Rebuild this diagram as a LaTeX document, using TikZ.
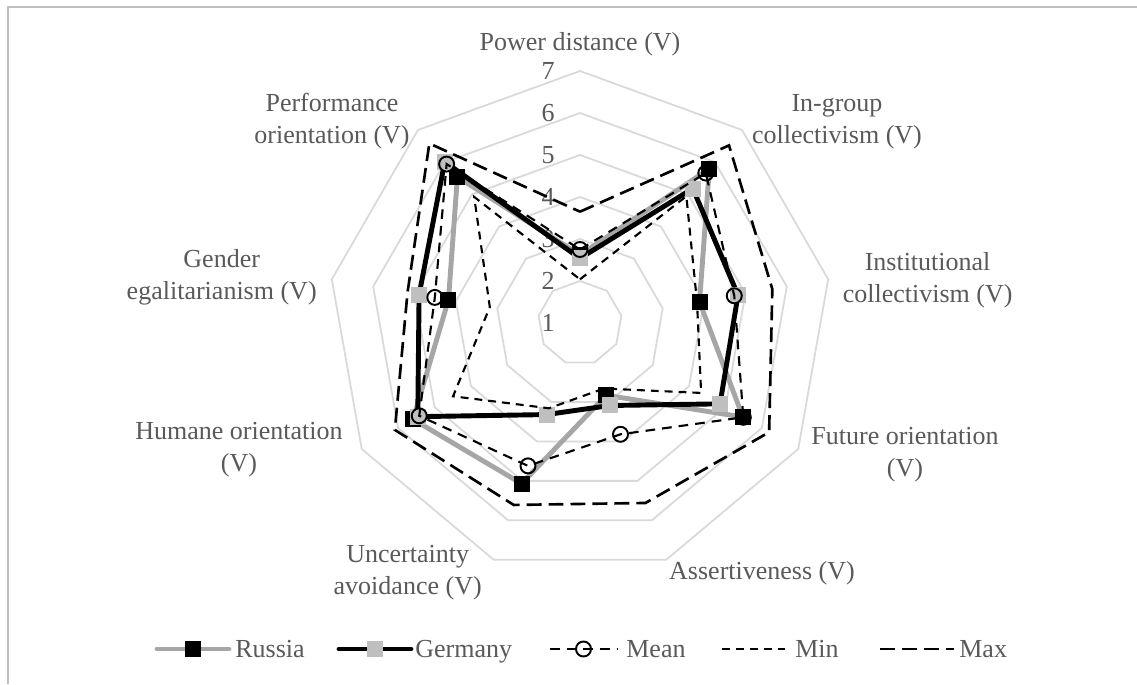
\documentclass[tikz,border=0pt]{standalone}
\usepackage{fontspec}
\setmainfont{Liberation Serif}
\definecolor{txtgrey}{HTML}{595959}
\definecolor{ringgrey}{HTML}{D9D9D9}
\definecolor{framegrey}{HTML}{BFBFBF}
\definecolor{lightmark}{HTML}{BFBFBF}
\definecolor{russiagrey}{HTML}{A6A6A6}

% values (V): PD, IGC, IC, FO, AS, UA, HO, GE, PO
\def\russia{2.62,5.79,3.89,5.48,2.83,5.07,5.59,4.18,5.54}
\def\germany{2.54,5.18,4.82,4.85,3.09,3.32,5.46,4.89,6.01}
\def\meanval{2.75,5.66,4.73,5.49,3.82,4.62,5.42,4.51,5.94}
\def\minval{2.04,4.94,3.83,4.33,2.66,3.16,4.49,3.18,4.92}
\def\maxval{3.65,6.52,5.65,6.20,5.56,5.61,6.09,5.17,6.58}

\tikzset{
  ring/.style={draw=ringgrey,line width=1pt},
  lab/.style={text=txtgrey,font=\fontsize{14.8pt}{18.2pt}\selectfont,align=center,inner sep=0pt},
  ruline/.style={draw=russiagrey,line width=2.8pt,line join=round},
  deline/.style={draw=black,line width=2.8pt,line join=round},
  meanline/.style={line width=1.2pt,dash pattern=on 5.5pt off 4pt},
  minline/.style={line width=1.2pt,dash pattern=on 4.5pt off 3.4pt},
  maxline/.style={line width=1.5pt,dash pattern=on 8.5pt off 4pt},
  rumark/.style={fill=black,minimum size=0.32cm,inner sep=0pt},
  demark/.style={fill=lightmark,minimum size=0.32cm,inner sep=0pt},
  meanmark/.style={circle,draw=black,line width=1.1pt,minimum size=0.3cm,inner sep=0pt}
}

\begin{document}
\begin{tikzpicture}[x=0.02cm,y=0.02cm]
\useasboundingbox (-580,-361) rectangle (557,323);
\draw[framegrey,line width=0.8pt] (-572,-361) -- (-572,316) -- (557,316);

% grid rings and scale
\foreach \k in {1,...,6}
  \draw[ring] (90:{\k*42}) \foreach \a in {1,...,8}{ -- ({90-40*\a}:{\k*42}) } -- cycle;
\foreach \k in {1,...,7}
  \node[lab,anchor=east] (t\k) at (-25,{(\k-1)*42}) {\k};

% axis labels
\node[lab] (lpd) at (0,279) {Power distance (V)};
\node[lab] (ligc) at (257,201) {In-group\\collectivism (V)};
\node[lab] (lic) at (347.6,42.8) {Institutional\\collectivism (V)};
\node[lab] (lfo) at (325,-132) {Future orientation\\(V)};
\node[lab] (las) at (182,-250.5) {Assertiveness (V)};
\node[lab] (lua) at (-172.3,-249.5) {Uncertainty\\avoidance (V)};
\node[lab] (lho) at (-341,-126.5) {Humane orientation\\(V)};
\node[lab] (lge) at (-358.3,45.5) {Gender\\egalitarianism (V)};
\node[lab] (lpo) at (-248,201.5) {Performance\\orientation (V)};

% data points
\foreach \v [count=\i] in \russia  \coordinate (ru\i) at ({90-40*(\i-1)}:{(\v-1)*42});
\foreach \v [count=\i] in \germany \coordinate (de\i) at ({90-40*(\i-1)}:{(\v-1)*42});
\foreach \v [count=\i] in \meanval \coordinate (mn\i) at ({90-40*(\i-1)}:{(\v-1)*42});
\foreach \v [count=\i] in \minval  \coordinate (mi\i) at ({90-40*(\i-1)}:{(\v-1)*42});
\foreach \v [count=\i] in \maxval  \coordinate (mx\i) at ({90-40*(\i-1)}:{(\v-1)*42});

% Russia
\draw[ruline] (ru1) \foreach \i in {2,...,9}{ -- (ru\i) } -- cycle;
\foreach \i in {1,...,9} \node[rumark] (rum\i) at (ru\i) {};
% Germany
\draw[deline] (de1) \foreach \i in {2,...,9}{ -- (de\i) } -- cycle;
\foreach \i in {1,...,9} \node[demark] (dem\i) at (de\i) {};
% Mean
\draw[meanline] (mn1) \foreach \i in {2,...,9}{ -- (mn\i) } -- cycle;
\foreach \i in {1,...,9} \node[meanmark] (mnm\i) at (mn\i) {};
% Min and Max
\draw[minline] (mi1) \foreach \i in {2,...,9}{ -- (mi\i) } -- cycle;
\draw[maxline] (mx1) \foreach \i in {2,...,9}{ -- (mx\i) } -- cycle;

% legend
\coordinate (lr1) at (-423,-326); \coordinate (lr2) at (-351,-326);
\draw[ruline,line cap=round] (lr1) -- (lr2);
\node[rumark] (lrm) at (-387,-326) {};
\node[lab,anchor=base west] (lrt) at (-345,-334) {Russia};

\coordinate (lg1) at (-241,-326); \coordinate (lg2) at (-169,-326);
\draw[deline,line cap=round] (lg1) -- (lg2);
\node[demark] (lgm) at (-205,-326) {};
\node[lab,anchor=base west] (lgt) at (-165,-334) {Germany};

\coordinate (lm1) at (-30,-326); \coordinate (lm2) at (37,-326);
\draw[meanline] (lm1) -- (lm2);
\node[meanmark] (lmm) at (3.5,-326) {};
\node[lab,anchor=base west] (lmt) at (46,-334) {Mean};

\coordinate (ln1) at (142,-326); \coordinate (ln2) at (207,-326);
\draw[minline] (ln1) -- (ln2);
\node[lab,anchor=base west] (lnt) at (215,-334) {Min};

\coordinate (lx1) at (300,-326); \coordinate (lx2) at (374,-326);
\draw[maxline] (lx1) -- (lx2);
\node[lab,anchor=base west] (lxt) at (379,-334) {Max};
\end{tikzpicture}
\end{document}
